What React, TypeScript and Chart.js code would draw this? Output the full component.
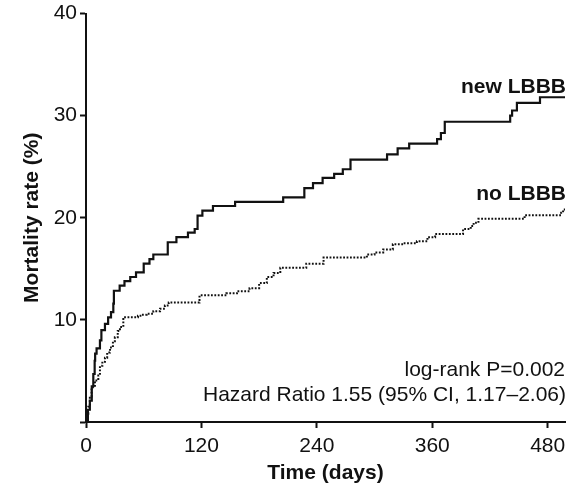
import React, { useEffect, useRef } from "react";
import { Chart, registerables } from "chart.js";

Chart.register(...registerables);

// Kaplan-Meier style cumulative mortality (days, %)
const newLbbbDays = [0, 2, 4, 6, 7.6, 9, 9.5, 11, 14.5, 16, 19.7, 23, 26, 28.4, 29, 35, 40, 46, 52, 60, 66, 70, 85, 94, 106, 113, 116, 121, 132, 155, 205, 227, 236, 246, 258, 267, 275, 313, 324, 336, 365, 369, 373, 441, 443, 448, 472, 498];
const newLbbbRate = [0, 1.2, 2.1, 3.5, 4.7, 6.0, 6.7, 7.2, 8.0, 9.0, 9.6, 10.25, 10.75, 11.6, 12.85, 13.35, 13.8, 14.2, 14.65, 15.5, 15.95, 16.4, 17.6, 18.1, 18.55, 18.9, 20.2, 20.7, 21.15, 21.55, 22.0, 22.9, 23.4, 23.9, 24.3, 24.75, 25.7, 26.2, 26.8, 27.25, 27.7, 28.3, 29.4, 30.0, 30.5, 31.25, 31.8, 31.8];

const noLbbbDays = [0, 1, 2.4, 4, 5.8, 9.3, 12.8, 14.5, 17, 19.7, 22, 25, 28, 30, 33, 35.3, 38.8, 54, 58, 63, 70, 77, 82, 86, 118, 146, 157, 170, 180, 188, 195, 202, 229, 247, 292, 300, 309, 319, 330, 344, 355, 363, 392, 400, 403, 408, 456, 494, 496, 498];
const noLbbbRate = [0, 0.8, 1.5, 2.5, 3.4, 4.07, 4.56, 5.5, 5.9, 6.3, 6.8, 7.3, 7.9, 8.3, 8.9, 9.3, 10.25, 10.4, 10.5, 10.6, 10.85, 11.1, 11.4, 11.7, 12.4, 12.6, 12.8, 13.1, 13.6, 14.2, 14.6, 15.1, 15.5, 16.1, 16.4, 16.6, 16.9, 17.4, 17.5, 17.7, 18.1, 18.4, 18.9, 19.2, 19.5, 19.9, 20.25, 20.5, 20.8, 21.0];

const xTickValues = [0, 120, 240, 360, 480];
const yTickValues = [0, 10, 20, 30, 40];
const xMax = 498;
const yMax = 40;

const seriesLabels = ["new LBBB", "no LBBB"];
const statLines = ["log-rank P=0.002", "Hazard Ratio 1.55 (95% CI, 1.17\u20132.06)"];

const FONT = "'Liberation Sans', Arial, Helvetica, sans-serif";
const FS = 21;

export default function App() {
  const ref = useRef<HTMLCanvasElement | null>(null);

  useEffect(() => {
    if (!ref.current) return;
    const toPts = (xs: number[], ys: number[]) => xs.map((x, i) => ({ x, y: ys[i] }));

    const annot = {
      id: "annot",
      afterDatasetsDraw(chart: any) {
        const { ctx, scales } = chart;
        const xs = scales.x;
        const ys = scales.y;
        const right = xs.getPixelForValue(xMax) + 1;
        ctx.save();
        ctx.fillStyle = "#111";
        ctx.textAlign = "right";
        ctx.textBaseline = "alphabetic";
        ctx.font = `bold ${FS}px ${FONT}`;
        ctx.fillText(seriesLabels[0], right, ys.getPixelForValue(32.2));
        ctx.fillText(seriesLabels[1], right, ys.getPixelForValue(21.7));
        ctx.font = `${FS}px ${FONT}`;
        ctx.fillText(statLines[0], right - 1, ys.getPixelForValue(4.55));
        ctx.fillText(statLines[1], right, ys.getPixelForValue(2.1));
        ctx.restore();
      },
    };

    const chart = new Chart(ref.current, {
      type: "line",
      data: {
        datasets: [
          {
            label: seriesLabels[0],
            data: toPts(newLbbbDays, newLbbbRate),
            borderColor: "#111",
            borderWidth: 2.2,
            stepped: "before",
            pointRadius: 0,
            fill: false,
          },
          {
            label: seriesLabels[1],
            data: toPts(noLbbbDays, noLbbbRate),
            borderColor: "#111",
            borderWidth: 2,
            borderDash: [1.8, 1.6],
            stepped: "before",
            pointRadius: 0,
            fill: false,
          },
        ],
      },
      options: {
        animation: false,
        responsive: false,
        layout: { padding: { top: 12, right: 15, left: 0, bottom: 0 } },
        plugins: { legend: { display: false }, tooltip: { enabled: false } },
        scales: {
          x: {
            type: "linear",
            min: 0,
            max: xMax,
            afterFit: (s: any) => { s.height = 64; },
            afterBuildTicks: (s: any) => { s.ticks = xTickValues.map((v) => ({ value: v })); },
            border: { display: true, color: "#111", width: 2 },
            grid: { drawOnChartArea: false, drawTicks: true, tickLength: 6, tickColor: "#111", tickWidth: 2 },
            ticks: { color: "#111", font: { family: FONT, size: FS }, padding: 6, maxRotation: 0 },
            title: { display: true, text: "Time (days)", color: "#111", font: { family: FONT, size: FS, weight: "bold" }, padding: { top: 0, bottom: 0 } },
          },
          y: {
            type: "linear",
            min: 0,
            max: yMax,
            afterFit: (s: any) => { s.width = 86; },
            afterBuildTicks: (s: any) => { s.ticks = yTickValues.map((v) => ({ value: v })); },
            border: { display: true, color: "#111", width: 2 },
            grid: { drawOnChartArea: false, drawTicks: true, tickLength: 6, tickColor: "#111", tickWidth: 2 },
            ticks: { color: "#111", font: { family: FONT, size: FS, lineHeight: 1 }, padding: 3, callback: (v: any) => (v === 0 ? "" : String(v)) },
            title: { display: true, text: "Mortality rate (%)", color: "#111", font: { family: FONT, size: FS, weight: "bold" }, padding: { top: 20, bottom: 0 } },
          },
        },
      },
      plugins: [annot],
    } as any);

    return () => chart.destroy();
  }, []);

  return (
    <div style={{ position: "absolute", left: 0, top: 0, width: 580, height: 486, background: "#fff" }}>
      <canvas ref={ref} width={580} height={486} style={{ display: "block" }} />
    </div>
  );
}
